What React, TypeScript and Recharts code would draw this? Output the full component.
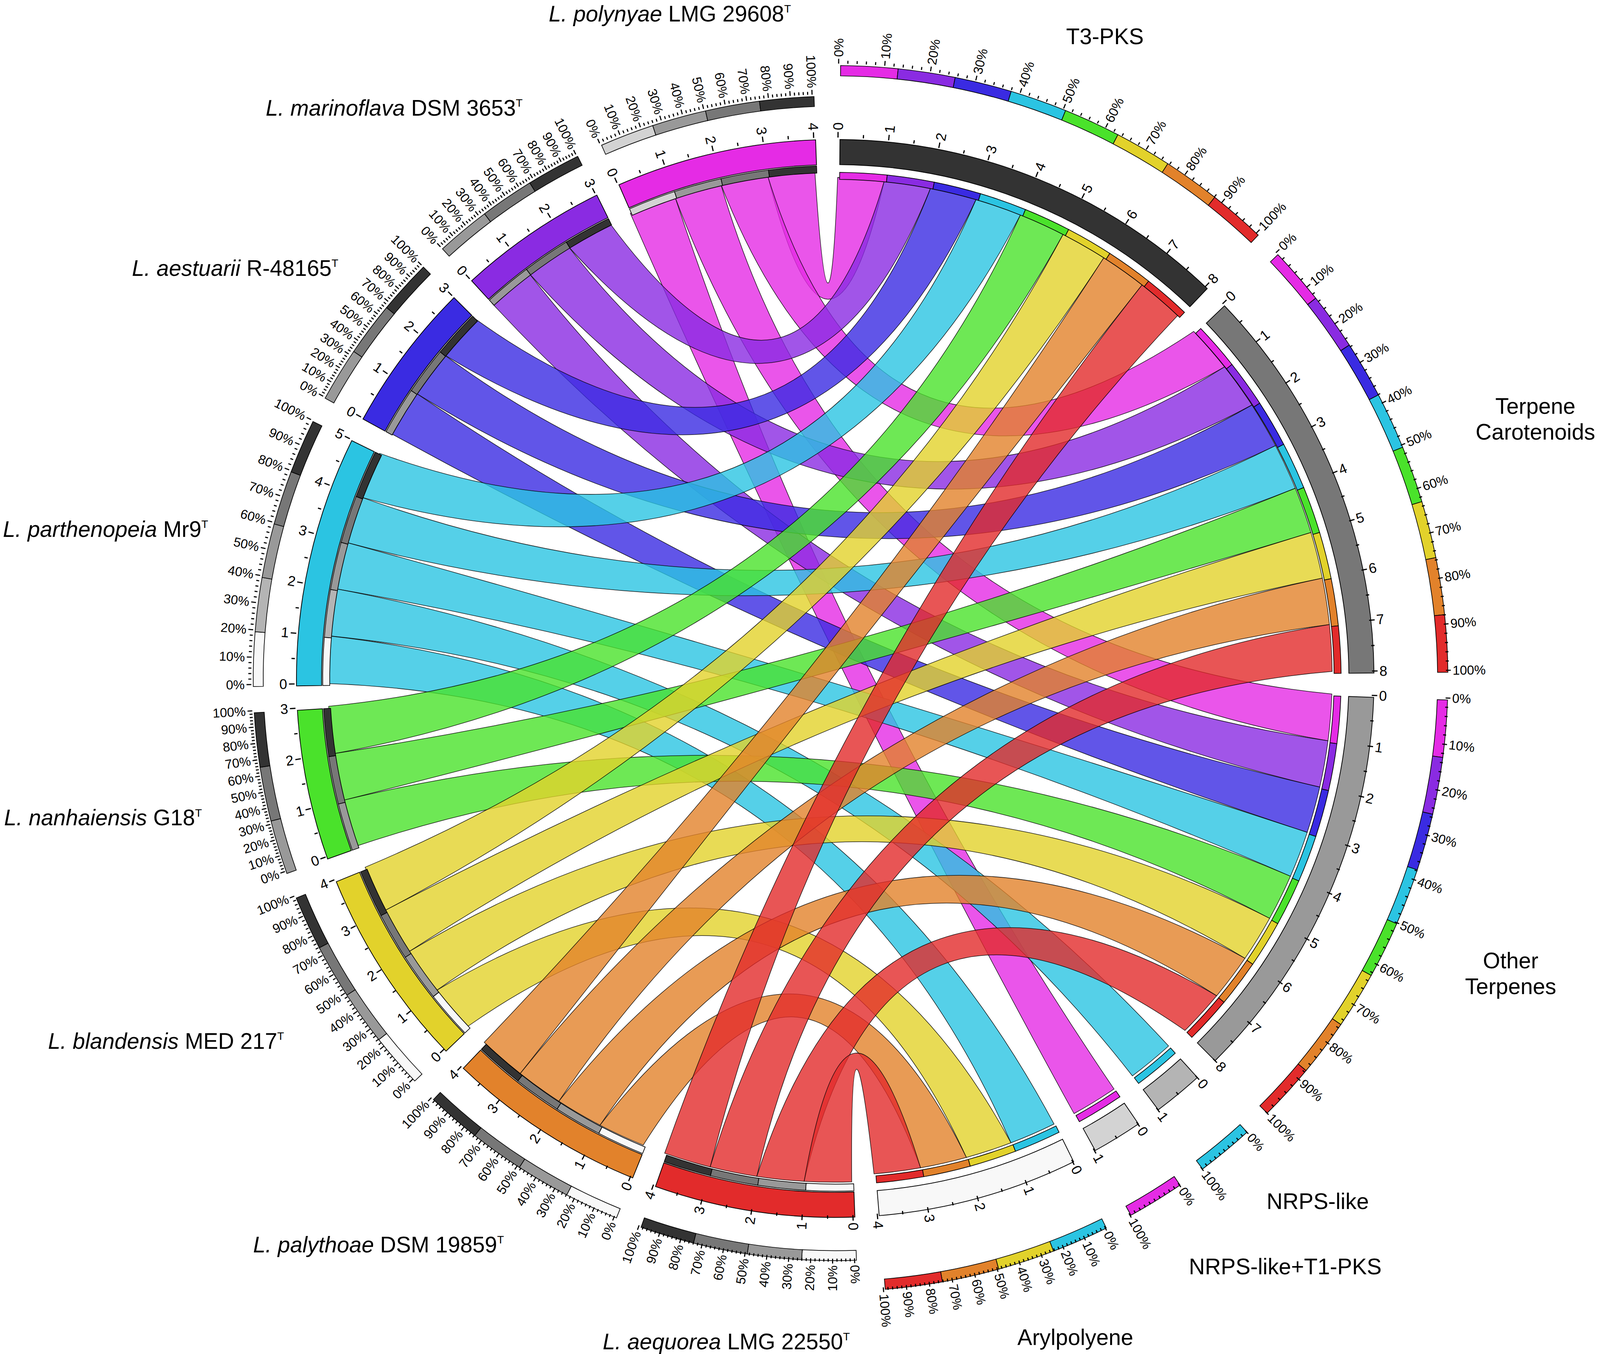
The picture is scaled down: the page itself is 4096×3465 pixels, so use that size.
import React from "react";
import { PieChart, Pie, Cell, Customized } from "recharts";

// everything measured on the 4328x3661 reference, drawn at 0.946
const S = 0.946;
const WIDTH = 4096;
const HEIGHT = 3465;
const CX = 2255 * S;
const CY = 1830 * S;
const START = 89.5; // recharts angle where T3-PKS starts (just right of 12 o'clock)
const GAP = 0.48; // gap between sectors, in link units

const FONT = "'Liberation Sans', Arial, Helvetica, sans-serif";

const SPECIES = [
  "L. polynyae", "L. marinoflava", "L. aestuarii", "L. parthenopeia",
  "L. nanhaiensis", "L. blandensis", "L. palythoae", "L. aequorea",
];
const STRAINS = ["LMG 29608", "DSM 3653", "R-48165", "Mr9", "G18", "MED 217", "DSM 19859", "LMG 22550"];
const SPECIES_COLORS = ["#E52BE5", "#8A2BE2", "#3A2BE2", "#2BC4E2", "#4AE22B", "#E2D22B", "#E2822B", "#E22B2B"];

const CLUSTERS = ["T3-PKS", "Terpene Carotenoids", "Other Terpenes", "NRPS-like", "NRPS-like+T1-PKS", "Arylpolyene"];
const CLUSTER_COLORS = ["#333333", "#777777", "#999999", "#B4B4B4", "#D3D3D3", "#F8F8F8"];

// gene clusters per species: rows = SPECIES, columns = CLUSTERS
const COUNTS = [
  [1, 1, 1, 0, 1, 0],
  [1, 1, 1, 0, 0, 0],
  [1, 1, 1, 0, 0, 0],
  [1, 1, 1, 1, 0, 1],
  [1, 1, 1, 0, 0, 0],
  [1, 1, 1, 0, 0, 1],
  [1, 1, 1, 0, 0, 1],
  [1, 1, 1, 0, 0, 1],
];

// radii (reference px)
const R_ARC_OUT = 1458 * S;
const R_ARC_IN = 1390 * S;
const R_SP_OUT = 1387 * S;
const R_SP_IN = 1368 * S;
const R_CL_OUT = 1369 * S;
const R_CL_IN = 1350 * S;
const RING_SP = [1548 * S, 1575 * S];
const RING_CL = [1630 * S, 1658 * S];

const NUM_FS = 38 * S;
const PCT_FS = 35 * S;
const LABEL_FS = 60 * S;

type Kind = "s" | "c" | "gap";
type Sec = { kind: Kind; idx: number };

const SECTORS: Sec[] = [
  ...CLUSTERS.map((_, i) => ({ kind: "c" as Kind, idx: i })),
  ...SPECIES.map((_, i) => ({ kind: "s" as Kind, idx: SPECIES.length - 1 - i })),
];

const sectorTotal = (sec: Sec) =>
  sec.kind === "c"
    ? COUNTS.reduce((a, row) => a + row[sec.idx], 0)
    : COUNTS[sec.idx].reduce((a, b) => a + b, 0);

const sectorEnds = (sec: Sec) =>
  sec.kind === "c"
    ? SPECIES.map((_, s) => ({ partner: s, value: COUNTS[s][sec.idx] })).filter((e) => e.value > 0)
    : CLUSTERS.map((_, c) => ({ partner: c, value: COUNTS[sec.idx][c] })).reverse().filter((e) => e.value > 0);

const arcData = SECTORS.flatMap((sec) => [
  { kind: sec.kind, idx: sec.idx, value: sectorTotal(sec) },
  { kind: "gap" as Kind, idx: -1, value: GAP },
]);

const endData = SECTORS.flatMap((sec) => [
  ...sectorEnds(sec).map((e) => ({ kind: sec.kind, idx: sec.idx, partner: e.partner, value: e.value })),
  { kind: "gap" as Kind, idx: -1, partner: -1, value: GAP },
]);

const TOTAL = endData.reduce((a, d) => a + d.value, 0);
const RAD = Math.PI / 180;
const polar = (r: number, a: number) => ({ x: CX + r * Math.cos(-a * RAD), y: CY + r * Math.sin(-a * RAD) });

function endAngles(kind: Kind, idx: number, partner: number) {
  let acc = 0;
  for (const d of endData) {
    if (d.kind === kind && d.idx === idx && d.partner === partner) {
      return [START - (360 * acc) / TOTAL, START - (360 * (acc + d.value)) / TOTAL];
    }
    acc += d.value;
  }
  return [0, 0];
}

function radialText(a: number, r: number, txt: string, fs: number, key: string) {
  const th = (((90 - a) % 360) + 360) % 360;
  const p = polar(r, a);
  const right = th < 180;
  const rot = right ? th - 90 : th - 270;
  return (
    <text
      key={key}
      x={p.x}
      y={p.y}
      transform={`rotate(${rot} ${p.x} ${p.y})`}
      textAnchor={right ? "start" : "end"}
      dominantBaseline="central"
      fontSize={fs}
      fontFamily={FONT}
      fill="#000"
    >
      {txt}
    </text>
  );
}

function tick(a: number, r0: number, r1: number, w: number, key: string) {
  const p = polar(r0, a);
  const q = polar(r1, a);
  return <line key={key} x1={p.x} y1={p.y} x2={q.x} y2={q.y} stroke="#000" strokeWidth={w} />;
}

function renderArcAxis(props: any) {
  const d = props.payload && props.payload.kind ? props.payload : props;
  if (!d || d.kind === "gap") return null;
  const sa = props.startAngle;
  const ea = props.endAngle;
  const n = d.value;
  const out: React.ReactNode[] = [];
  for (let t = 0; t <= 2 * n; t++) {
    const a = sa + ((ea - sa) * t) / (2 * n);
    const major = t % 2 === 0;
    out.push(tick(a, R_ARC_OUT, R_ARC_OUT + (major ? 15 : 9) * S, 3.2 * S, `t${t}`));
    if (major) out.push(radialText(a, R_ARC_OUT + 20 * S, String(t / 2), NUM_FS, `n${t}`));
  }
  const rout = d.kind === "s" ? RING_SP[1] : RING_CL[1];
  const big = n >= 3;
  const steps = big ? 50 : 10;
  for (let t = 0; t <= steps; t++) {
    const a = sa + ((ea - sa) * t) / steps;
    const pct = (t * 100) / steps;
    const labeled = big ? pct % 10 === 0 : t === 0 || t === steps;
    out.push(tick(a, rout, rout + (labeled ? 13 : 8) * S, 3 * S, `p${t}`));
    if (labeled) out.push(radialText(a, rout + 18 * S, `${pct}%`, PCT_FS, `q${t}`));
  }
  return <g key={`ax-${d.kind}-${d.idx}`}>{out}</g>;
}

// control point of one ribbon edge: pulled toward the centre, more so for long chords
function ctrl(u: { x: number; y: number }, v: { x: number; y: number }, au: number, av: number) {
  let dA = Math.abs(au - av) % 360;
  if (dA > 180) dA = 360 - dA;
  const k = 0.42 + 0.58 * Math.sin((dA / 2) * RAD);
  const mx = (u.x + v.x) / 2;
  const my = (u.y + v.y) / 2;
  return { x: mx + k * (CX - mx), y: my + k * (CY - my) };
}

function ribbonPath(a0: number, a1: number, b0: number, b1: number) {
  const p0 = polar(R_SP_IN, a0);
  const p1 = polar(R_SP_IN, a1);
  const q0 = polar(R_CL_IN, b0);
  const q1 = polar(R_CL_IN, b1);
  const c1 = ctrl(p1, q0, a1, b0);
  const c2 = ctrl(q1, p0, b1, a0);
  return (
    `M${p0.x},${p0.y} A${R_SP_IN},${R_SP_IN} 0 0 1 ${p1.x},${p1.y} ` +
    `Q${c1.x},${c1.y} ${q0.x},${q0.y} A${R_CL_IN},${R_CL_IN} 0 0 1 ${q1.x},${q1.y} ` +
    `Q${c2.x},${c2.y} ${p0.x},${p0.y} Z`
  );
}

function Ribbons() {
  const paths: React.ReactNode[] = [];
  SPECIES.forEach((_, s) => {
    CLUSTERS.forEach((__, c) => {
      if (!COUNTS[s][c]) return;
      const [a0, a1] = endAngles("s", s, c);
      const [b0, b1] = endAngles("c", c, s);
      paths.push(
        <path
          key={`r${s}-${c}`}
          d={ribbonPath(a0, a1, b0, b1)}
          fill={SPECIES_COLORS[s]}
          fillOpacity={0.8}
          stroke="#000"
          strokeOpacity={0.85}
          strokeWidth={1.6 * S}
        />
      );
    });
  });
  return <g>{paths}</g>;
}

// label anchors (reference px): x, baseline
const SPECIES_LABEL_AT = [
  [1485, 58], [719, 313], [357, 746], [8, 1452], [11, 2233], [130, 2837], [685, 3388], [1631, 3650],
];
const CLUSTER_LABEL_LINES = [["T3-PKS"], ["Terpene", "Carotenoids"], ["Other", "Terpenes"], ["NRPS-like"], ["NRPS-like+T1-PKS"], ["Arylpolyene"]];
const CLUSTER_LABEL_AT = [
  [2990, 119], [4155, 1119], [4088, 2619], [3566, 3271], [3478, 3447], [2910, 3639],
];

function Labels() {
  return (
    <g fontFamily={FONT} fill="#000">
      {SPECIES.map((sp, i) => (
        <text key={`sl${i}`} x={SPECIES_LABEL_AT[i][0] * S} y={SPECIES_LABEL_AT[i][1] * S} fontSize={LABEL_FS}>
          <tspan fontStyle="italic">{sp}</tspan>
          <tspan>{" " + STRAINS[i]}</tspan>
          <tspan fontSize={LABEL_FS * 0.5} dy={-LABEL_FS * 0.4}>T</tspan>
        </text>
      ))}
      {CLUSTER_LABEL_LINES.map((lines, i) =>
        lines.map((ln, j) => (
          <text
            key={`cl${i}-${j}`}
            x={CLUSTER_LABEL_AT[i][0] * S}
            y={(CLUSTER_LABEL_AT[i][1] + j * 70) * S}
            fontSize={LABEL_FS}
            textAnchor="middle"
          >
            {ln}
          </text>
        ))
      )}
    </g>
  );
}

const pieCommon = {
  dataKey: "value",
  cx: CX,
  cy: CY,
  startAngle: START,
  endAngle: START - 360,
  isAnimationActive: false,
};

export default function App() {
  return (
    <div style={{ position: "absolute", left: 0, top: 0, width: WIDTH, height: HEIGHT, background: "#fff" }}>
      <PieChart width={WIDTH} height={HEIGHT}>
        <Customized component={Ribbons} />
        <Pie {...pieCommon} data={endData} innerRadius={R_SP_IN} outerRadius={R_SP_OUT}>
          {endData.map((d, i) => (
            <Cell key={i} fill={d.kind === "s" ? CLUSTER_COLORS[d.partner] : "none"} stroke={d.kind === "s" ? "#000" : "none"} strokeWidth={1.8 * S} />
          ))}
        </Pie>
        <Pie {...pieCommon} data={endData} innerRadius={R_CL_IN} outerRadius={R_CL_OUT}>
          {endData.map((d, i) => (
            <Cell key={i} fill={d.kind === "c" ? SPECIES_COLORS[d.partner] : "none"} stroke={d.kind === "c" ? "#000" : "none"} strokeWidth={1.8 * S} />
          ))}
        </Pie>
        <Pie {...pieCommon} data={endData} innerRadius={RING_SP[0]} outerRadius={RING_SP[1]}>
          {endData.map((d, i) => (
            <Cell key={i} fill={d.kind === "s" ? CLUSTER_COLORS[d.partner] : "none"} stroke={d.kind === "s" ? "#000" : "none"} strokeWidth={1.8 * S} />
          ))}
        </Pie>
        <Pie {...pieCommon} data={endData} innerRadius={RING_CL[0]} outerRadius={RING_CL[1]}>
          {endData.map((d, i) => (
            <Cell key={i} fill={d.kind === "c" ? SPECIES_COLORS[d.partner] : "none"} stroke={d.kind === "c" ? "#000" : "none"} strokeWidth={1.8 * S} />
          ))}
        </Pie>
        <Pie {...pieCommon} data={arcData} innerRadius={R_ARC_IN} outerRadius={R_ARC_OUT} label={renderArcAxis} labelLine={false}>
          {arcData.map((d, i) => (
            <Cell
              key={i}
              fill={d.kind === "gap" ? "none" : d.kind === "c" ? CLUSTER_COLORS[d.idx] : SPECIES_COLORS[d.idx]}
              stroke={d.kind === "gap" ? "none" : "#000"}
              strokeWidth={2 * S}
            />
          ))}
        </Pie>
        <Customized component={Labels} />
      </PieChart>
    </div>
  );
}
